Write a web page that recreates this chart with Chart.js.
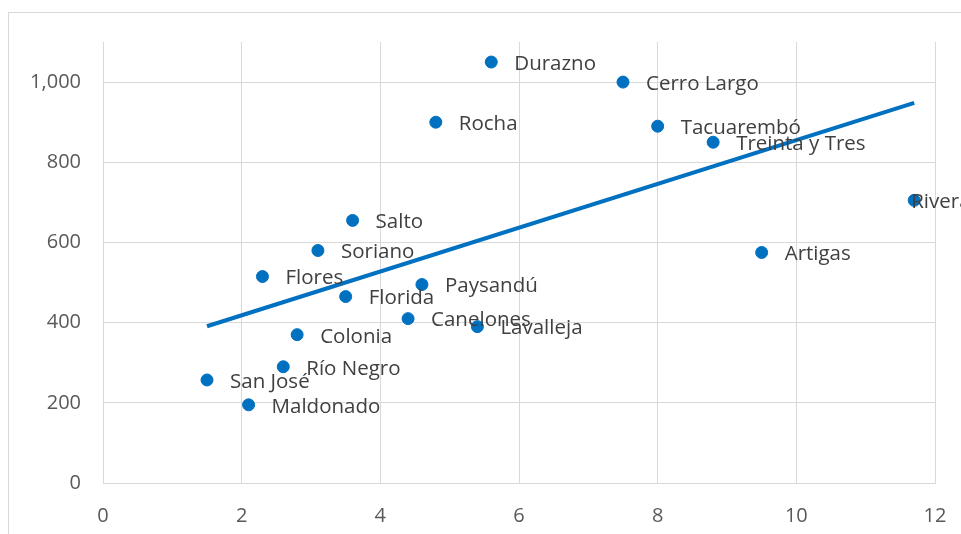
<!DOCTYPE html>
<html>
<head>
<meta charset="utf-8">
<script src="https://cdn.jsdelivr.net/npm/chart.js@4"></script>
<style>
    html, body { margin: 0; padding: 0; background: #fff; }
    body { width: 961px; height: 534px; overflow: hidden; position: relative; }
    .frame {
        position: absolute; left: 8px; top: 12px; width: 1100px; height: 700px;
        border-top: 1px solid #d9d9d9; border-left: 1px solid #d9d9d9;
    }
    canvas { position: absolute; left: 0; top: 0; }
</style>
</head>
<body>
<div class="frame"></div>
<canvas id="chart" width="961" height="534"></canvas>
<script>
const departments = [
    "Durazno", "Cerro Largo", "Rocha", "Tacuarembó", "Treinta y Tres", "Rivera",
    "Artigas", "Salto", "Soriano", "Flores", "Florida", "Paysandú", "Canelones",
    "Lavalleja", "Colonia", "Río Negro", "San José", "Maldonado",
]
const xValues = [5.6, 7.5, 4.8, 8.0, 8.8, 11.7, 9.5, 3.6, 3.1, 2.3, 3.5, 4.6, 4.4, 5.4, 2.8, 2.6, 1.5, 2.1]
const yValues = [1050, 1000, 900, 890, 850, 705, 575, 655, 580, 515, 465, 495, 410, 390, 370, 290, 257, 195]
const trendX = [1.5, 11.7]
const trendY = [391, 948]
const xTicks = [0, 2, 4, 6, 8, 10, 12]
const yTicks = [0, 200, 400, 600, 800, 1000]

const blue = "#0070c0"
const gridColor = "#d9d9d9"
const font = { family: "'Open Sans', sans-serif", size: 20 }

// labels to the right of each point, the last one pushed back over its marker
const pointLabels = {
    id: "pointLabels",
    afterDatasetsDraw(chart) {
        const { ctx } = chart
        const meta = chart.getDatasetMeta(0)
        ctx.save()
        ctx.font = `20.5px ${font.family}`
        ctx.fillStyle = "#404040"
        ctx.textBaseline = "middle"
        ctx.textAlign = "left"
        meta.data.forEach((pt, i) => {
            const dx = departments[i] == "Rivera" ? -3 : 23
            ctx.fillText(departments[i], pt.x + dx, pt.y + 2)
        })
        ctx.restore()
    },
}

new Chart(document.getElementById("chart"), {
    type: "scatter",
    data: {
        datasets: [
            {
                label: "departamentos",
                data: xValues.map((x, i) => ({ x, y: yValues[i] })),
                backgroundColor: blue,
                borderColor: blue,
                pointRadius: 6,
                pointHoverRadius: 6,
                order: 1,
            },
            {
                type: "line",
                label: "tendencia",
                data: trendX.map((x, i) => ({ x, y: trendY[i] })),
                borderColor: blue,
                borderWidth: 4,
                pointRadius: 0,
                fill: false,
                order: 2,
            },
        ],
    },
    plugins: [pointLabels],
    options: {
        responsive: false,
        animation: false,
        layout: { padding: { left: 0, top: 42, right: 26, bottom: 0 } },
        plugins: {
            legend: { display: false },
            tooltip: { enabled: false },
        },
        scales: {
            x: {
                type: "linear",
                min: 0,
                max: 12,
                afterBuildTicks: scale => { scale.ticks = xTicks.map(value => ({ value })) },
                afterFit: scale => {
                    scale.height = 51
                    scale.paddingLeft = 0
                    scale.paddingRight = 0
                },
                grid: { color: gridColor, drawTicks: false },
                border: { color: gridColor },
                ticks: {
                    color: "#595959",
                    font,
                    padding: 21,
                    maxRotation: 0,
                    minRotation: 0,
                    autoSkip: false,
                },
            },
            y: {
                min: 0,
                max: 1100,
                afterBuildTicks: scale => { scale.ticks = yTicks.map(value => ({ value })) },
                afterFit: scale => {
                    scale.width = 103
                    scale.paddingTop = 0
                    scale.paddingBottom = 0
                },
                grid: { color: gridColor, drawTicks: false },
                border: { color: gridColor },
                ticks: {
                    color: "#595959",
                    font,
                    padding: 22,
                    callback: v => v.toLocaleString("en-US"),
                },
            },
        },
    },
})
</script>
</body>
</html>
